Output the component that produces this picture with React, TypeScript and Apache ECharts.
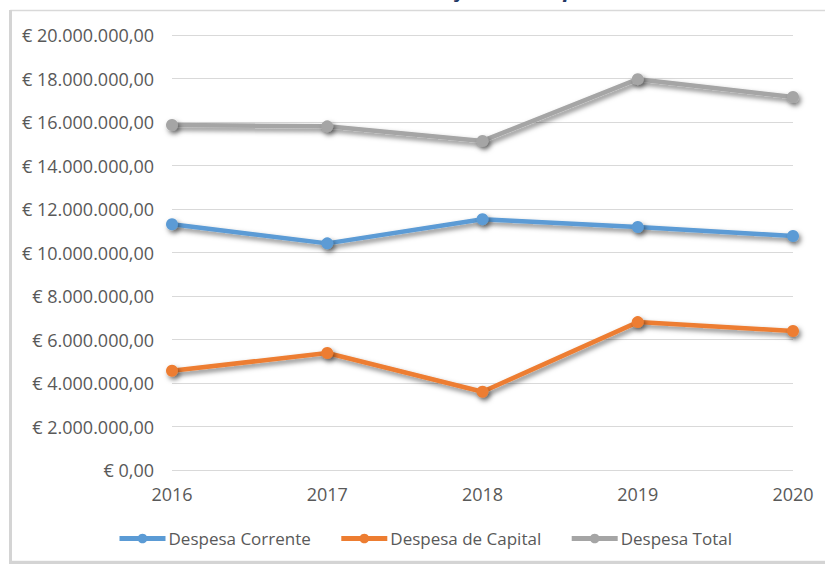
import React, { useEffect, useRef } from "react";
import * as echarts from "echarts";

const years = ["2016", "2017", "2018", "2019", "2020"];
const despesaCorrente = [11300000, 10420000, 11530000, 11170000, 10760000];
const despesaCapital = [4560000, 5380000, 3600000, 6800000, 6390000];
const despesaTotal = [15860000, 15800000, 15130000, 17970000, 17150000];
const seriesNames = ["Despesa Corrente", "Despesa de Capital", "Despesa Total"];
const titleText = "Evolução da Despesa";

function fmt(v: number): string {
  const s = Math.round(v).toString();
  const withDots = s.replace(/\B(?=(\d{3})+(?!\d))/g, ".");
  return "€ " + withDots + ",00";
}

export default function App() {
  const ref = useRef<HTMLDivElement>(null);
  useEffect(() => {
    if (!ref.current) return;
    const chart = echarts.init(ref.current, undefined, { renderer: "svg" });
    const font = "'Open Sans', sans-serif";
    const shadow = {
      shadowColor: "rgba(0,0,0,0.5)",
      shadowBlur: 5,
      shadowOffsetX: 2,
      shadowOffsetY: 3,
    };
    const mk = (name: string, data: number[], color: string) => ({
      name,
      type: "line",
      data,
      symbol: "circle",
      symbolSize: 12,
      lineStyle: { color, width: 4.5, ...shadow },
      itemStyle: { color, ...shadow },
    });
    chart.setOption({
      animation: false,
      backgroundColor: "#ffffff",
      color: ["#5b9bd5", "#ed7d31", "#a5a5a5"],
      graphic: [
        {
          type: "rect",
          shape: { x: 11, y: 10.5, width: 830, height: 551 },
          style: { fill: "#ffffff", stroke: "#d9d9d9", lineWidth: 1.5 },
          z: -10,
          silent: true,
        },
        {
          type: "rect",
          shape: { x: 9, y: 10, width: 3, height: 553 },
          style: { fill: "#d4d4d4" },
          z: -9,
          silent: true,
        },
        {
          type: "rect",
          shape: { x: 9, y: 561, width: 830, height: 3 },
          style: { fill: "#d4d4d4" },
          z: -9,
          silent: true,
        },
        {
          type: "text",
          x: 396,
          y: -23,
          style: {
            text: titleText,
            font: "italic bold 22px 'Open Sans', sans-serif",
            fill: "#1f3864",
          },
          z: 10,
          silent: true,
        },
      ],
      legend: {
        data: seriesNames,
        top: 525,
        left: 112,
        itemWidth: 46,
        itemHeight: 12,
        itemGap: 28,
        lineStyle: { width: 5 },
        textStyle: { color: "#595959", fontSize: 17, fontFamily: font, padding: [0, 0, 0, -2] },
      },
      grid: { left: 172, right: 32, top: 35, bottom: 96 },
      xAxis: {
        type: "category",
        data: years,
        boundaryGap: false,
        axisLine: { show: false },
        axisTick: { show: false },
        axisLabel: {
          color: "#595959",
          fontSize: 18,
          fontFamily: font,
          margin: 15,
        },
      },
      yAxis: {
        type: "value",
        min: 0,
        max: 20000000,
        interval: 2000000,
        axisLine: { show: false },
        axisTick: { show: false },
        splitLine: { lineStyle: { color: "#d9d9d9", width: 1.2 } },
        axisLabel: {
          color: "#595959",
          fontSize: 18,
          fontFamily: font,
          margin: 18,
          formatter: (v: number) => fmt(v),
        },
      },
      series: [
        mk(seriesNames[0], despesaCorrente, "#5b9bd5"),
        mk(seriesNames[1], despesaCapital, "#ed7d31"),
        mk(seriesNames[2], despesaTotal, "#a5a5a5"),
      ],
    });
    return () => chart.dispose();
  }, []);
  return (
    <div
      ref={ref}
      style={{ position: "fixed", left: 0, top: 0, width: 825, height: 566 }}
    />
  );
}
